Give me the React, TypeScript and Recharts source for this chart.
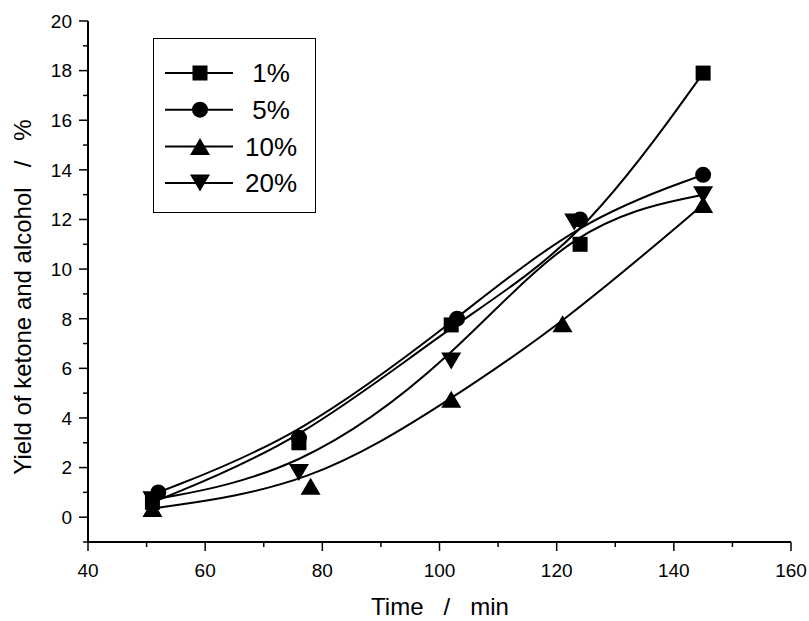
import React from 'react';
import { LineChart, Line, XAxis, YAxis, Legend, Label } from 'recharts';

// time (min) and yield (%), one pair per catalyst loading
const time1 = [51, 76, 102, 124, 145];
const yield1 = [0.6, 3.0, 7.75, 11.0, 17.9];
const time5 = [52, 76, 103, 124, 145];
const yield5 = [1.0, 3.2, 8.0, 12.0, 13.8];
const time10 = [51, 78, 102, 121, 145];
const yield10 = [0.35, 1.25, 4.75, 7.8, 12.6];
const time20 = [51, 76, 102, 123, 145];
const yield20 = [0.7, 1.8, 6.3, 11.9, 13.0];

const seriesNames = ['1%', '5%', '10%', '20%'];
const xTicks = [40, 50, 60, 70, 80, 90, 100, 110, 120, 130, 140, 150, 160];
const yTicks = [-1, 0, 1, 2, 3, 4, 5, 6, 7, 8, 9, 10, 11, 12, 13, 14, 15, 16, 17, 18, 19, 20];

const FONT = '"Liberation Sans", Arial, Helvetica, sans-serif';

const toPoints = (ts: number[], ys: number[]) => ts.map((t, i) => ({ t, y: ys[i] }));

type Shape = 'square' | 'circle' | 'up' | 'down';

function marker(shape: Shape, cx: number, cy: number, key?: string) {
  if (shape === 'square') {
    return <rect key={key} x={cx - 7.5} y={cy - 7.5} width={15} height={15} fill="#000" />;
  }
  if (shape === 'circle') {
    return <circle key={key} cx={cx} cy={cy} r={8} fill="#000" />;
  }
  const pts =
    shape === 'up'
      ? `${cx},${cy - 8.5} ${cx - 10},${cy + 8.5} ${cx + 10},${cy + 8.5}`
      : `${cx},${cy + 8.5} ${cx - 10},${cy - 8.5} ${cx + 10},${cy - 8.5}`;
  return <polygon key={key} points={pts} fill="#000" />;
}

const series = [
  { name: seriesNames[0], data: toPoints(time1, yield1), shape: 'square' as Shape },
  { name: seriesNames[1], data: toPoints(time5, yield5), shape: 'circle' as Shape },
  { name: seriesNames[2], data: toPoints(time10, yield10), shape: 'up' as Shape },
  { name: seriesNames[3], data: toPoints(time20, yield20), shape: 'down' as Shape },
];

const XTick = (props: any) => {
  const { x, y, payload } = props;
  const major = payload.value % 20 === 0;
  return (
    <g>
      <line x1={x} x2={x} y1={y} y2={y + (major ? 9 : 5)} stroke="#000" strokeWidth={1.5} />
      {major && (
        <text x={x} y={y + 35} textAnchor="middle" fontSize={19} fontFamily={FONT} fill="#000">
          {payload.value}
        </text>
      )}
    </g>
  );
};

const YTick = (props: any) => {
  const { x, y, payload } = props;
  const major = payload.value % 2 === 0;
  return (
    <g>
      <line x1={x} x2={x - (major ? 9 : 5)} y1={y} y2={y} stroke="#000" strokeWidth={1.5} />
      {major && (
        <text x={x - 16} y={y} dy="0.36em" textAnchor="end" fontSize={19} fontFamily={FONT} fill="#000">
          {payload.value}
        </text>
      )}
    </g>
  );
};

const renderLegend = () => (
  <div style={{ width: 163, height: 175, border: '1.5px solid #000', boxSizing: 'border-box', background: '#fff' }}>
    <svg width={160} height={172}>
      {series.map((s, i) => {
        const cy = 34 + i * 36.7;
        return (
          <g key={s.name}>
            <line x1={11} x2={79} y1={cy} y2={cy} stroke="#000" strokeWidth={2} />
            {marker(s.shape, 46, cy)}
            <text x={117} y={cy} dy="0.36em" textAnchor="middle" fontSize={26} fontFamily={FONT} fill="#000">
              {s.name}
            </text>
          </g>
        );
      })}
    </svg>
  </div>
);

export default function App() {
  return (
    <div style={{ position: 'absolute', left: 0, top: 0, background: '#fff' }}>
      <LineChart width={809} height={621} margin={{ top: 21, right: 18, bottom: 0, left: 0 }}>
        <XAxis
          dataKey="t"
          type="number"
          domain={[40, 160]}
          ticks={xTicks}
          interval={0}
          height={79}
          tickSize={0}
          tickMargin={0}
          tickLine={false}
          tick={XTick}
          axisLine={{ stroke: '#000', strokeWidth: 2 }}
          allowDataOverflow
        >
          <Label
            content={() => (
              <text x={440} y={615} textAnchor="middle" fontSize={24} fontFamily={FONT} fill="#000" style={{ whiteSpace: 'pre' }}>
                {'Time   /   min'}
              </text>
            )}
          />
        </XAxis>
        <YAxis
          type="number"
          domain={[-1, 20]}
          ticks={yTicks}
          interval={0}
          width={88}
          tickSize={0}
          tickMargin={0}
          tickLine={false}
          tick={YTick}
          axisLine={{ stroke: '#000', strokeWidth: 2 }}
          allowDataOverflow
        >
          <Label
            content={() => (
              <text
                x={22}
                y={297}
                transform="rotate(-90 22 297)"
                textAnchor="middle"
                dominantBaseline="central"
                fontSize={24}
                fontFamily={FONT}
                fill="#000"
                style={{ whiteSpace: 'pre' }}
              >
                {'Yield of ketone and alcohol   /   %'}
              </text>
            )}
          />
        </YAxis>
        <Legend
          layout="vertical"
          align="center"
          verticalAlign="middle"
          content={renderLegend}
          wrapperStyle={{ left: 153, top: 38, width: 163, height: 175 }}
        />
        {series.map((s) => (
          <Line
            key={s.name}
            name={s.name}
            data={s.data}
            dataKey="y"
            type="basis"
            stroke="#000"
            strokeWidth={2}
            dot={(p: any) => marker(s.shape, p.cx, p.cy, `${s.name}-${p.index}`)}
            activeDot={false}
            isAnimationActive={false}
          />
        ))}
      </LineChart>
    </div>
  );
}
